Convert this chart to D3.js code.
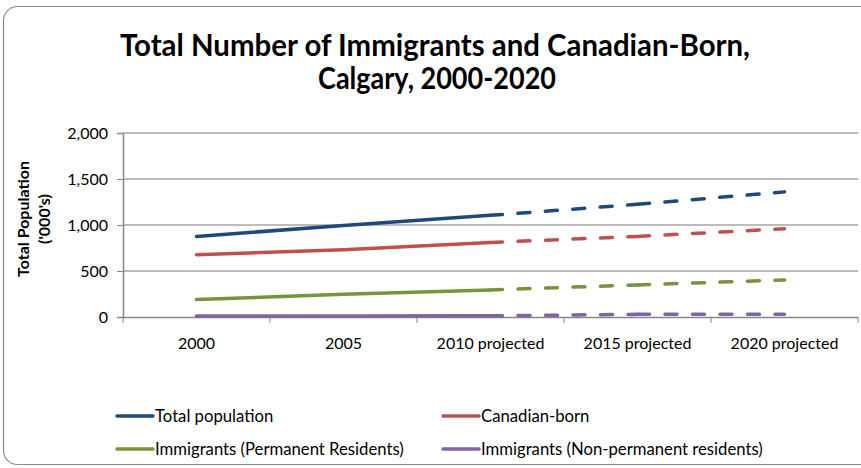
<!DOCTYPE html>
<html>
<head>
<meta charset="utf-8">
<script src="https://cdn.jsdelivr.net/npm/d3@7"></script>
<style>
  body { margin: 0; background: #fff; }
  text { font-family: Lato, "Open Sans", sans-serif; fill: #000; }
</style>
</head>
<body>
<div id="chart"></div>
<script>
// categories on the x axis
var categories = ["2000", "2005", "2010 projected", "2015 projected", "2020 projected"];
// index of the first projected value (dashed from here on)
var projectedStart = 2;

var seriesNames = [
    "Total population",
    "Canadian-born",
    "Immigrants (Permanent Residents)",
    "Immigrants (Non-permanent residents)"
];
var seriesColors = ["#1F497D", "#C0504D", "#77933C", "#8064A2"];

// values in thousands
var totalPopulation = [876, 995, 1105, 1225, 1360];
var canadianBorn = [676, 731, 810, 876, 960];
var permanentResidents = [189, 247, 294, 349, 403];
var nonPermanentResidents = [10, 11, 13, 29, 29];

var yTicks = [0, 500, 1000, 1500, 2000];

var seriesValues = [totalPopulation, canadianBorn, permanentResidents, nonPermanentResidents];

var W = 861, H = 468;
var margin = { top: 133, right: 3, bottom: 151, left: 123 },
    width = W - margin.left - margin.right,
    height = H - margin.top - margin.bottom;

var root = d3.select("#chart")
    .append("svg")
    .attr("width", W)
    .attr("height", H);

// chart border
root.append("rect")
    .attr("x", 3.5).attr("y", 6.5)
    .attr("width", W + 10).attr("height", H - 10)
    .attr("rx", 14)
    .attr("fill", "#fff")
    .attr("stroke", "#8a8a8a")
    .attr("stroke-width", 1.2);

// title
var title = root.append("text")
    .attr("text-anchor", "middle")
    .attr("font-weight", "bold")
    .attr("font-size", 30);
title.append("tspan").attr("x", 435).attr("y", 56)
    .attr("textLength", 630).attr("lengthAdjust", "spacingAndGlyphs")
    .text("Total Number of Immigrants and Canadian-Born,");
title.append("tspan").attr("x", 437).attr("y", 89)
    .attr("textLength", 238).attr("lengthAdjust", "spacingAndGlyphs")
    .text("Calgary, 2000-2020");

var svg = root.append("g")
    .attr("transform", "translate(" + margin.left + "," + margin.top + ")");

var x = d3.scaleBand()
    .domain(categories)
    .range([0, width])
    .padding(0);

var y = d3.scaleLinear()
    .domain([0, 2000])
    .range([height, 0]);

// gridlines
svg.append("g")
    .selectAll("line")
    .data(yTicks.slice(1))
    .join("line")
    .attr("x1", 0).attr("x2", width)
    .attr("y1", d => y(d)).attr("y2", d => y(d))
    .attr("stroke", "#a6a6a6")
    .attr("stroke-width", 1.5);

// Y axis
var yAxis = svg.append("g")
    .call(d3.axisLeft(y).tickValues(yTicks).tickFormat(d3.format(",")).tickSize(6).tickPadding(9));
yAxis.select(".domain").attr("stroke", "#868686").attr("stroke-width", 1.5);
yAxis.selectAll(".tick line").attr("stroke", "#868686");
yAxis.selectAll("text").attr("font-size", 16).attr("fill", "#000");

// X axis, ticks between categories
var xAxis = svg.append("g")
    .attr("transform", "translate(0," + height + ")")
    .call(d3.axisBottom(x).tickSize(0).tickPadding(21));
xAxis.select(".domain").attr("stroke", "#868686").attr("stroke-width", 1.5);
xAxis.selectAll("text").attr("font-size", 16).attr("fill", "#000");
xAxis.selectAll(".sep")
    .data(categories.concat([null]))
    .join("line")
    .attr("class", "sep")
    .attr("x1", (d, i) => i * x.step()).attr("x2", (d, i) => i * x.step())
    .attr("y1", 0).attr("y2", 6)
    .attr("stroke", "#868686");

// Y axis title
var yTitle = svg.append("text")
    .attr("transform", "translate(-94," + (height / 2 - 6) + ") rotate(-90)")
    .attr("text-anchor", "middle")
    .attr("font-weight", "bold")
    .attr("font-size", 16);
yTitle.append("tspan").attr("x", 0).attr("y", 0).text("Total Population");
yTitle.append("tspan").attr("x", 0).attr("y", 21).text("('000's)");

var px = i => x(categories[i]) + x.bandwidth() / 2;

var line = d3.line()
    .x(d => px(d.i))
    .y(d => y(d.v));

seriesValues.forEach(function (vals, s) {
    var pts = vals.map((v, i) => ({ i: i, v: v }));
    // actual values, solid
    svg.append("path")
        .datum(pts.slice(0, projectedStart + 1))
        .attr("d", line)
        .attr("fill", "none")
        .attr("stroke", seriesColors[s])
        .attr("stroke-width", 3.5)
        .attr("stroke-linecap", "round");
    // projected values, dash pattern restarts at each point
    for (var k = projectedStart; k < pts.length - 1; k++) {
        svg.append("path")
            .datum([pts[k], pts[k + 1]])
            .attr("d", line)
            .attr("fill", "none")
            .attr("stroke", seriesColors[s])
            .attr("stroke-width", 3.5)
            .attr("stroke-linecap", "round")
            .attr("stroke-dasharray", "12,15.5");
    }
});

// legend
var legendPos = [[117, 416], [443, 416], [117, 449], [443, 449]];
var legend = root.append("g")
    .selectAll("g")
    .data(seriesNames)
    .join("g")
    .attr("transform", (d, i) => "translate(" + legendPos[i][0] + "," + legendPos[i][1] + ")");
legend.append("line")
    .attr("x1", 0).attr("x2", 36)
    .attr("stroke", (d, i) => seriesColors[i])
    .attr("stroke-width", 3.5)
    .attr("stroke-linecap", "round");
legend.append("text")
    .attr("x", 38)
    .attr("dy", "0.35em")
    .attr("font-size", 16.7)
    .text(d => d);
</script>
</body>
</html>
